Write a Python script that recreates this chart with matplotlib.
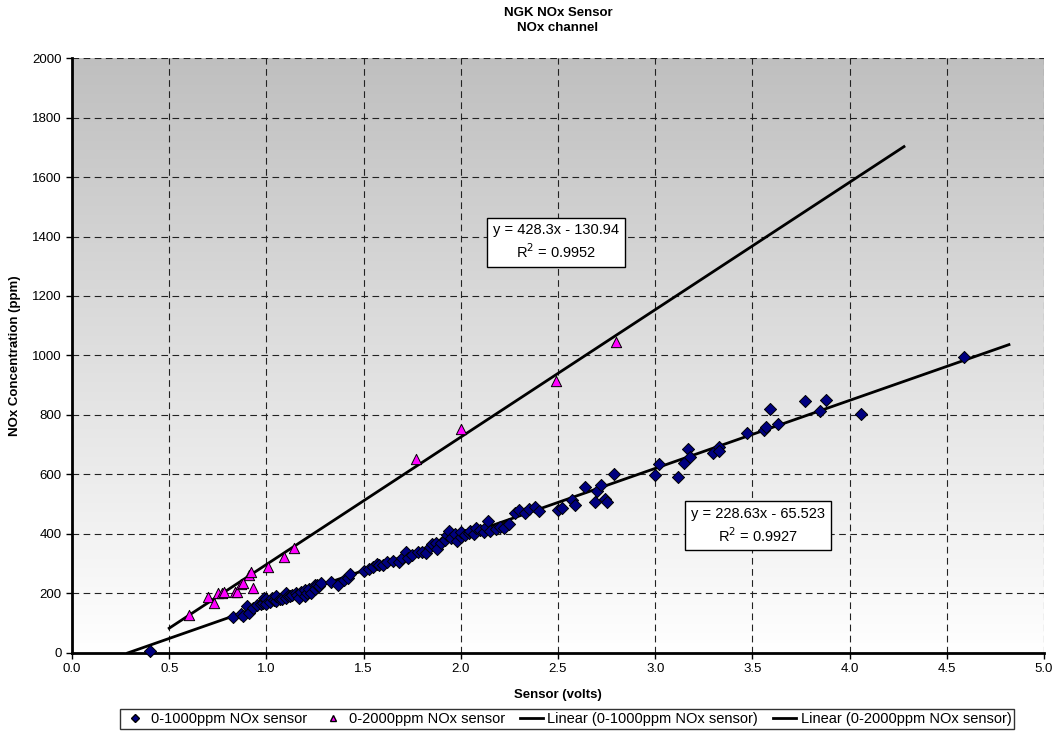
import numpy as np
import matplotlib
matplotlib.use('Agg')
import matplotlib.pyplot as plt
from matplotlib.lines import Line2D

plt.rcParams['font.family'] = ['Liberation Sans', 'DejaVu Sans']

# 0-1000ppm NOx sensor (diamonds)
x_1000 = [0.40, 0.83, 0.87, 0.88, 0.90, 0.91, 0.93, 0.95, 0.97, 0.98, 0.99, 1.00, 1.00,
          1.02, 1.03, 1.04, 1.05, 1.05, 1.07, 1.08, 1.10, 1.10, 1.11, 1.12, 1.13, 1.15,
          1.16, 1.17, 1.18, 1.20, 1.20, 1.21, 1.22, 1.23, 1.25, 1.25, 1.26, 1.27, 1.28,
          1.33, 1.37, 1.40, 1.42, 1.43, 1.50, 1.53, 1.55, 1.57, 1.58, 1.60, 1.62, 1.65,
          1.68, 1.70, 1.72, 1.73, 1.75, 1.78, 1.80, 1.82, 1.84, 1.85, 1.87, 1.88, 1.90,
          1.92, 1.93, 1.94, 1.95, 1.97, 1.98, 2.00, 2.00, 2.02, 2.04, 2.05, 2.07, 2.08,
          2.10, 2.12, 2.13, 2.14, 2.15, 2.18, 2.20, 2.22, 2.25, 2.28, 2.30, 2.33, 2.35,
          2.38, 2.40, 2.50, 2.52, 2.57, 2.59, 2.64, 2.69, 2.70, 2.72, 2.74, 2.75, 2.79,
          3.00, 3.02, 3.12, 3.15, 3.17, 3.18, 3.30, 3.33, 3.33, 3.47, 3.56, 3.57, 3.59,
          3.63, 3.77, 3.85, 3.88, 4.06, 4.59]
y_1000 = [5, 120, 130, 125, 158, 135, 150, 160, 165, 167, 184, 180, 165,
          170, 185, 178, 175, 190, 183, 180, 185, 200, 192, 190, 195, 200,
          196, 185, 205, 210, 190, 203, 215, 200, 230, 215, 229, 225, 235,
          239, 229, 245, 251, 265, 275, 282, 290, 300, 296, 295, 305, 310,
          305, 320, 340, 318, 330, 340, 340, 335, 355, 365, 370, 350, 370,
          380, 395, 410, 385, 400, 375, 390, 405, 395, 402, 410, 400, 420,
          415, 405, 425, 445, 410, 418, 425, 420, 435, 470, 480, 470, 485,
          490, 478, 480, 486, 514, 497, 557, 509, 545, 565, 516, 506, 600,
          598, 635, 590, 638, 686, 660, 673, 691, 679, 738, 751, 759, 819,
          769, 846, 813, 849, 804, 995]

# 0-2000ppm NOx sensor (triangles)
x_2000 = [0.60, 0.70, 0.73, 0.75, 0.77, 0.78, 0.84, 0.85, 0.87, 0.88, 0.91, 0.92, 0.93,
          1.01, 1.09, 1.14, 1.77, 2.00, 2.49, 2.80]
y_2000 = [128, 187, 167, 200, 200, 206, 204, 206, 232, 234, 262, 273, 219,
          290, 324, 352, 651, 752, 914, 1046]

# trendline coefficients as printed on the chart
fit_1000 = (228.63, -65.523)
fit_2000 = (428.3, -130.94)

fig = plt.figure(figsize=(10.62, 7.42), dpi=100)
ax = fig.add_axes([0.0678, 0.12, 0.9152, 0.8018])

# grey (top) to white (bottom) gradient background
grad = np.linspace(0, 1, 256).reshape(-1, 1)
top = np.array([0.75, 0.75, 0.75])
bot = np.array([1.0, 1.0, 1.0])
img = top + (bot - top) * grad[:, :, None]
ax.imshow(img, extent=[0, 5, 0, 2000], origin='upper', aspect='auto', zorder=0)

ax.set_xlim(0, 5)
ax.set_ylim(0, 2000)
ax.set_xticks(np.arange(0, 5.01, 0.5))
ax.set_yticks(np.arange(0, 2001, 200))
ax.set_xticklabels([f'{v:.1f}' for v in np.arange(0, 5.01, 0.5)])
ax.grid(True, color='#222222', linestyle=(0, (6, 4)), linewidth=0.8, zorder=1)
ax.tick_params(labelsize=9.5, direction='out', length=4, width=1)

for s in ['top', 'right']:
    ax.spines[s].set_visible(False)
for s in ['left', 'bottom']:
    ax.spines[s].set_linewidth(2)

# trendlines
xl1 = np.array([-fit_1000[1] / fit_1000[0], 4.82])
ax.plot(xl1, fit_1000[0] * xl1 + fit_1000[1], color='black', lw=2, zorder=2)
xl2 = np.array([0.5, 4.28])
ax.plot(xl2, fit_2000[0] * xl2 + fit_2000[1], color='black', lw=2, zorder=2)

ax.scatter(x_1000, y_1000, marker='D', s=38, color='#000080', edgecolors='black',
           linewidths=0.7, zorder=3, clip_on=False)
ax.scatter(x_2000, y_2000, marker='^', s=55, color='#ff00ff', edgecolors='black',
           linewidths=0.7, zorder=4)

box = dict(boxstyle='square,pad=0.4', facecolor='white', edgecolor='black', lw=1)
ax.text(2.49, 1381, 'y = 428.3x - 130.94\nR$^2$ = 0.9952', ha='center', va='center',
        fontsize=10.5, bbox=box, zorder=5, linespacing=1.3)
ax.text(3.53, 427, 'y = 228.63x - 65.523\nR$^2$ = 0.9927', ha='center', va='center',
        fontsize=10.5, bbox=box, zorder=5, linespacing=1.3)

ax.set_xlabel('Sensor (volts)', fontsize=9.5, fontweight='bold', labelpad=10)
ax.set_ylabel('NOx Concentration (ppm)', fontsize=9.5, fontweight='bold', labelpad=8)
fig.text(0.5 * (0.0678 + 0.983), 0.972, 'NGK NOx Sensor\nNOx channel', ha='center',
         va='center', fontsize=9.5, fontweight='bold', linespacing=1.35)

handles = [
    Line2D([], [], marker='D', color='#000080', markeredgecolor='black', linestyle='none', markersize=4),
    Line2D([], [], marker='^', color='#ff00ff', markeredgecolor='black', linestyle='none', markersize=5),
    Line2D([], [], color='black', lw=2),
    Line2D([], [], color='black', lw=2),
]
labels = ['0-1000ppm NOx sensor', '0-2000ppm NOx sensor',
          'Linear (0-1000ppm NOx sensor)', 'Linear (0-2000ppm NOx sensor)']
fig.legend(handles, labels, loc='center', bbox_to_anchor=(0.534, 0.0305), ncol=4,
           fontsize=10.5, frameon=True, fancybox=False, edgecolor='black',
           handlelength=1.6, handletextpad=0.3, columnspacing=1.0, borderpad=0.2)

fig.savefig('out.png', dpi=100)
